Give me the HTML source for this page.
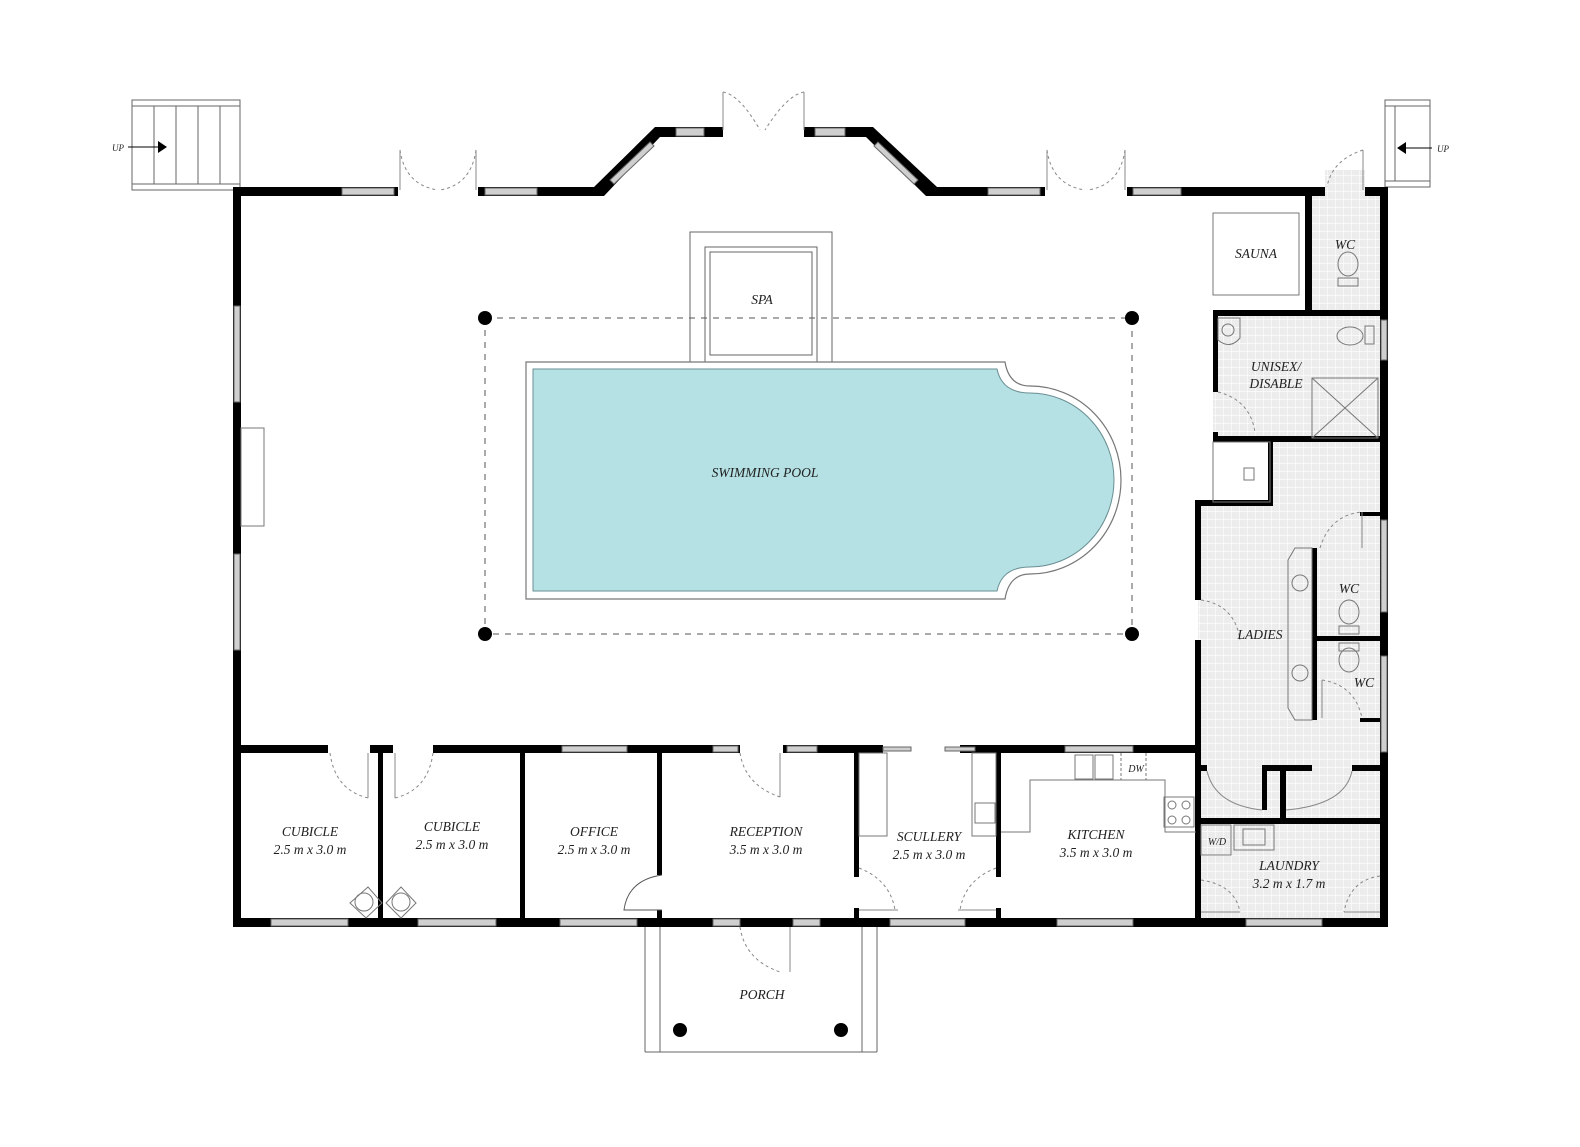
<!DOCTYPE html>
<html><head><meta charset="utf-8"><style>
html,body{margin:0;padding:0;background:#fff;}
svg{display:block;}
text{font-family:"Liberation Serif",serif;font-style:italic;fill:#222;text-anchor:middle;}
</style></head><body>
<svg width="1580" height="1147" viewBox="0 0 1580 1147" xmlns="http://www.w3.org/2000/svg">
<defs>
<pattern id="tile" width="8" height="8" patternUnits="userSpaceOnUse">
<rect width="8" height="8" fill="#ececec"/><path d="M8 0V8M0 8H8" stroke="#fff" stroke-width="1.2"/>
</pattern>
</defs>

<!-- tiled areas -->
<rect x="1310" y="194" width="72" height="118" fill="url(#tile)"/>
<rect x="1213" y="314" width="168" height="124" fill="url(#tile)"/>
<rect x="1271" y="442" width="110" height="62" fill="url(#tile)"/>
<rect x="1198" y="502" width="183" height="420" fill="url(#tile)"/>
<rect x="1325" y="170" width="40" height="24" fill="url(#tile)"/>

<!-- stairs -->
<g fill="none" stroke="#666" stroke-width="1">
<rect x="132" y="100" width="108" height="90"/>
<line x1="132" y1="106" x2="240" y2="106"/><line x1="132" y1="184" x2="240" y2="184"/>
<line x1="154" y1="106" x2="154" y2="184"/><line x1="176" y1="106" x2="176" y2="184"/><line x1="198" y1="106" x2="198" y2="184"/><line x1="220" y1="106" x2="220" y2="184"/>
<rect x="1385" y="100" width="45" height="87"/>
<line x1="1385" y1="106" x2="1430" y2="106"/><line x1="1385" y1="181" x2="1430" y2="181"/>
<line x1="1395" y1="106" x2="1395" y2="181"/>
</g>
<line x1="128" y1="147" x2="165" y2="147" stroke="#000"/><path d="M158 141 L167 147 L158 153Z"/>
<line x1="1400" y1="148" x2="1432" y2="148" stroke="#000"/><path d="M1406 142 L1397 148 L1406 154Z"/>
<text x="118" y="151" font-size="9">UP</text>
<text x="1443" y="152" font-size="9">UP</text>

<!-- porch -->
<g fill="none" stroke="#666" stroke-width="1">
<line x1="645" y1="927" x2="645" y2="1052"/><line x1="660" y1="927" x2="660" y2="1052"/>
<line x1="862" y1="927" x2="862" y2="1052"/><line x1="877" y1="927" x2="877" y2="1052"/>
<line x1="645" y1="1052" x2="877" y2="1052"/>
</g>
<circle cx="680" cy="1030" r="7"/><circle cx="841" cy="1030" r="7"/>

<!-- walls -->
<g fill="#000">
<!-- top -->
<rect x="233" y="187" width="165" height="9"/>
<rect x="478" y="187" width="120" height="9"/>
<polygon points="594,187 655,127 662,127 662,137 660,137 604,196 594,196"/>
<rect x="655" y="127" width="68" height="10"/>
<rect x="804" y="127" width="68" height="10"/>
<polygon points="866,127 873,127 937,187 937,196 926,196 866,137"/>
<rect x="926" y="187" width="119" height="9"/>
<rect x="1127" y="187" width="198" height="9"/>
<rect x="1365" y="187" width="23" height="9"/>
<!-- left, right, bottom -->
<rect x="233" y="187" width="8" height="740"/>
<rect x="1380" y="187" width="8" height="740"/>
<rect x="233" y="918" width="1155" height="9"/>
<!-- interior horizontal -->
<rect x="233" y="745" width="95" height="8"/>
<rect x="370" y="745" width="23" height="8"/>
<rect x="433" y="745" width="307" height="8"/>
<rect x="783" y="745" width="100" height="8"/>
<rect x="960" y="745" width="236" height="8"/>
<!-- verticals -->
<rect x="378" y="745" width="5" height="178"/>
<rect x="520" y="745" width="5" height="178"/>
<rect x="657" y="745" width="5" height="130"/>
<rect x="657" y="910" width="5" height="15"/>
<rect x="854" y="753" width="5" height="124"/>
<rect x="854" y="908" width="5" height="12"/>
<rect x="996" y="753" width="5" height="124"/>
<rect x="996" y="908" width="5" height="12"/>
<!-- right block -->
<rect x="1305" y="194" width="7" height="116"/>
<rect x="1213" y="310" width="170" height="6"/>
<rect x="1213" y="310" width="5" height="82"/>
<rect x="1213" y="432" width="5" height="10"/>
<rect x="1213" y="436" width="170" height="6"/>
<rect x="1268" y="442" width="5" height="62"/>
<rect x="1195" y="500" width="78" height="6"/>
<rect x="1195" y="500" width="6" height="100"/>
<rect x="1195" y="640" width="6" height="285"/>
<rect x="1312" y="548" width="5" height="172"/>
<rect x="1312" y="636" width="70" height="5"/>
<rect x="1360" y="512" width="20" height="4"/>
<rect x="1360" y="718" width="20" height="4"/>
<rect x="1195" y="765" width="12" height="6"/>
<rect x="1262" y="765" width="50" height="6"/>
<rect x="1262" y="765" width="5" height="45"/>
<rect x="1280" y="765" width="6" height="58"/>
<rect x="1352" y="765" width="30" height="6"/>
<rect x="1195" y="818" width="190" height="6"/>
<rect x="1195" y="824" width="6" height="56"/>
</g>

<!-- windows -->
<g fill="#cfcfcf" stroke="#666" stroke-width="1">
<rect x="342" y="188" width="52" height="7"/>
<rect x="485" y="188" width="52" height="7"/>
<rect x="676" y="128" width="28" height="8"/>
<rect x="815" y="128" width="30" height="8"/>
<rect x="988" y="188" width="52" height="7"/>
<rect x="1133" y="188" width="48" height="7"/>
<polygon points="610,180 650,142 654,146 614,184"/>
<polygon points="878,142 918,180 914,184 874,146"/>
<rect x="234" y="306" width="6" height="96"/>
<rect x="234" y="554" width="6" height="96"/>
<rect x="1381" y="320" width="6" height="40"/>
<rect x="1381" y="520" width="6" height="92"/>
<rect x="1381" y="656" width="6" height="96"/>
<rect x="271" y="919" width="77" height="7"/>
<rect x="418" y="919" width="78" height="7"/>
<rect x="560" y="919" width="77" height="7"/>
<rect x="713" y="919" width="27" height="7"/>
<rect x="793" y="919" width="27" height="7"/>
<rect x="890" y="919" width="75" height="7"/>
<rect x="1057" y="919" width="76" height="7"/>
<rect x="1246" y="919" width="76" height="7"/>
<rect x="562" y="746" width="65" height="6"/>
<rect x="713" y="746" width="25" height="6"/>
<rect x="787" y="746" width="30" height="6"/>
<rect x="1065" y="746" width="68" height="6"/>
<rect x="883" y="747" width="28" height="4"/>
<rect x="945" y="747" width="30" height="4"/>
</g>

<!-- doors -->
<g fill="none" stroke="#888" stroke-width="1">
<g stroke-dasharray="3 3">
<path d="M400 150 Q405 185 438 190"/><path d="M476 150 Q471 185 440 190"/>
<path d="M723 92 Q740 95 760 130"/><path d="M804 92 Q787 95 765 130"/>
<path d="M1047 150 Q1052 185 1085 190"/><path d="M1125 150 Q1120 185 1088 190"/>
<path d="M1363 150 Q1332 160 1327 187"/>
<path d="M330 753 Q335 790 368 798"/><path d="M433 753 Q428 790 395 798"/>
<path d="M740 753 Q745 785 780 797"/>
<path d="M740 927 Q745 960 780 972"/>
<path d="M859 868 Q890 880 895 910"/><path d="M996 868 Q965 880 960 910"/>
<path d="M1218 392 Q1250 400 1255 432"/>
<path d="M1201 600 Q1235 605 1240 640"/>
<path d="M1320 548 Q1330 515 1362 512"/>
<path d="M1322 680 Q1355 685 1362 718"/>
<path d="M1201 880 Q1235 885 1240 912"/><path d="M1380 876 Q1350 880 1344 912"/>
</g>
<line x1="400" y1="150" x2="400" y2="190"/><line x1="476" y1="150" x2="476" y2="190"/>
<line x1="723" y1="92" x2="723" y2="130"/><line x1="804" y1="92" x2="804" y2="130"/>
<line x1="1047" y1="150" x2="1047" y2="190"/><line x1="1125" y1="150" x2="1125" y2="190"/>
<line x1="1363" y1="150" x2="1363" y2="190"/>
<line x1="368" y1="753" x2="368" y2="798"/><line x1="395" y1="753" x2="395" y2="798"/>
<line x1="780" y1="753" x2="780" y2="797"/>
<line x1="790" y1="927" x2="790" y2="972"/>
<line x1="859" y1="910" x2="898" y2="910"/><line x1="958" y1="910" x2="996" y2="910"/>
<line x1="1201" y1="912" x2="1240" y2="912"/><line x1="1344" y1="912" x2="1380" y2="912"/>
<line x1="1362" y1="512" x2="1362" y2="548"/><line x1="1322" y1="680" x2="1322" y2="718"/>
<path d="M1207 771 Q1215 805 1262 810"/><path d="M1352 771 Q1345 805 1286 810"/>
</g>
<path d="M662 875 Q628 880 624 910 L662 910" fill="none" stroke="#555" stroke-width="1"/>

<!-- fixtures -->
<g fill="none" stroke="#777" stroke-width="1">
<rect x="1213" y="213" width="86" height="82"/>
<rect x="859" y="753" width="28" height="83"/>
<rect x="972" y="753" width="24" height="83"/>
<rect x="975" y="803" width="20" height="20"/>
<path d="M1001 832 H1030 V780 H1165 V832 H1196"/>
<rect x="1075" y="755" width="18" height="24"/><rect x="1095" y="755" width="18" height="24"/>
<line x1="1121" y1="753" x2="1121" y2="780" stroke-dasharray="3 2"/><line x1="1146" y1="753" x2="1146" y2="780" stroke-dasharray="3 2"/>
<rect x="1164" y="797" width="30" height="30"/>
<circle cx="1172" cy="805" r="4"/><circle cx="1186" cy="805" r="4"/><circle cx="1172" cy="820" r="4"/><circle cx="1186" cy="820" r="4"/>
<rect x="1213" y="442" width="57" height="60"/>
<rect x="1244" y="468" width="10" height="12"/>
<rect x="1312" y="378" width="66" height="60"/>
<line x1="1312" y1="378" x2="1378" y2="438"/><line x1="1378" y1="378" x2="1312" y2="438"/>
<path d="M1288 560 L1295 548 H1312 V720 H1295 L1288 708 Z"/>
<circle cx="1300" cy="583" r="8"/><circle cx="1300" cy="673" r="8"/>
<ellipse cx="1348" cy="264" rx="10" ry="12"/><rect x="1338" y="278" width="20" height="8"/>
<ellipse cx="1349" cy="612" rx="10" ry="12"/><rect x="1339" y="626" width="20" height="8"/>
<ellipse cx="1349" cy="660" rx="10" ry="12"/><rect x="1339" y="643" width="20" height="8"/>
<ellipse cx="1350" cy="336" rx="13" ry="9"/><rect x="1365" y="326" width="9" height="18"/>
<path d="M1218 318 H1240 V338 Q1230 350 1218 340 Z"/><circle cx="1228" cy="330" r="6"/>
<rect x="1201" y="825" width="30" height="30"/><rect x="1234" y="825" width="40" height="25"/><rect x="1243" y="829" width="22" height="16"/>
<path d="M350 903 L368 887 L382 903 L366 918 Z"/><circle cx="364" cy="902" r="9"/>
<path d="M386 903 L401 887 L416 903 L401 918 Z"/><circle cx="401" cy="902" r="9"/>
</g>
<text x="1217" y="845" font-size="10" font-style="italic">W/D</text>
<text x="1136" y="772" font-size="10">DW</text>

<!-- spa -->
<g fill="none" stroke="#666" stroke-width="1">
<rect x="690" y="232" width="142" height="130"/>
<rect x="705" y="247" width="112" height="115"/>
<rect x="710" y="252" width="102" height="103"/>
</g>

<!-- pool -->
<path d="M526,362 H1005 Q1009,386 1030,386 A 91 94 0 0 1 1030,574 Q1009,574 1005,599 H526 Z" fill="#fff" stroke="#777" stroke-width="1.2"/>
<path d="M533,369 H997 Q1002,393 1030,393 A 84 87 0 0 1 1030,567 Q1002,567 997,591 H533 Z" fill="#b5e1e4" stroke="#6a8f93" stroke-width="1"/>

<!-- dashed frame -->
<rect x="485" y="318" width="647" height="316" fill="none" stroke="#555" stroke-width="1" stroke-dasharray="6 6"/>
<circle cx="485" cy="318" r="7"/><circle cx="1132" cy="318" r="7"/><circle cx="485" cy="634" r="7"/><circle cx="1132" cy="634" r="7"/>

<!-- misc left -->
<rect x="241" y="428" width="23" height="98" fill="none" stroke="#777"/>

<!-- labels -->
<g font-size="13.5">
<text x="762" y="304">SPA</text>
<text x="765" y="477">SWIMMING POOL</text>
<text x="1256" y="258">SAUNA</text>
<text x="1345" y="249">WC</text>
<text x="1276" y="371">UNISEX/</text>
<text x="1276" y="388">DISABLE</text>
<text x="1349" y="593">WC</text>
<text x="1364" y="687">WC</text>
<text x="1260" y="639">LADIES</text>
<text x="310" y="836">CUBICLE</text><text x="310" y="854">2.5 m x 3.0 m</text>
<text x="452" y="831">CUBICLE</text><text x="452" y="849">2.5 m x 3.0 m</text>
<text x="594" y="836">OFFICE</text><text x="594" y="854">2.5 m x 3.0 m</text>
<text x="766" y="836">RECEPTION</text><text x="766" y="854">3.5 m x 3.0 m</text>
<text x="929" y="841">SCULLERY</text><text x="929" y="859">2.5 m x 3.0 m</text>
<text x="1096" y="839">KITCHEN</text><text x="1096" y="857">3.5 m x 3.0 m</text>
<text x="1289" y="870">LAUNDRY</text><text x="1289" y="888">3.2 m x 1.7 m</text>
<text x="762" y="999">PORCH</text>
</g>
</svg>
</body></html>
